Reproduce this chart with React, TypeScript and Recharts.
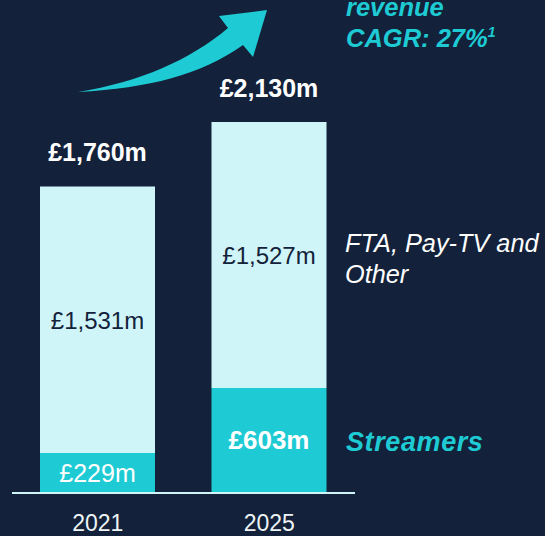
import { Bar, BarChart, LabelList, XAxis, YAxis } from "recharts";

const years = ["2021", "2025"];
const streamers = [229, 603];
const ftaOther = [1531, 1527];
const totals = [1760, 2130];
const streamerBold = [false, true];

const navy = "#13223a";
const light = "#cff5f8";
const teal = "#1ecbd4";
const font = "'Liberation Sans', Arial, sans-serif";

const data = years.map((year, i) => ({ year, streamers: streamers[i], ftaOther: ftaOther[i], total: totals[i] }));

const money = (v: number) => "£" + v.toLocaleString("en-GB") + "m";

function StreamerLabel(props: any) {
  const { x, y, width, height, index } = props;
  const bold = streamerBold[index];
  return (
    <text x={x + width / 2} y={y + height / 2 + 9} textAnchor="middle" fill="#ffffff" fontFamily={font}
      fontSize={bold ? 26 : 25} fontWeight={bold ? 700 : 400}>
      {money(streamers[index])}
    </text>
  );
}

function OtherLabel(props: any) {
  const { x, y, width, height, index } = props;
  return (
    <g>
      <text x={x + width / 2} y={y + height / 2 + 9} textAnchor="middle" fill={navy} fontFamily={font} fontSize={24}>
        {money(ftaOther[index])}
      </text>
      <text x={x + width / 2} y={y - 25} textAnchor="middle" fill="#ffffff" fontFamily={font} fontSize={25}
        fontWeight={700}>
        {money(totals[index])}
      </text>
    </g>
  );
}

function YearTick(props: any) {
  const { x, payload } = props;
  return (
    <text x={x} y={531} textAnchor="middle" fill="#eef4f6" fontFamily={font} fontSize={23}>
      {payload.value}
    </text>
  );
}

export default function App() {
  return (
    <div style={{ position: "absolute", left: 0, top: 0, width: 545, height: 536, background: navy, overflow: "hidden" }}>
      <BarChart width={545} height={536} data={data} margin={{ top: 122, right: 190, left: 12, bottom: 0 }} barSize={115}>
        <YAxis hide domain={[0, 2130]} />
        <XAxis dataKey="year" height={43} axisLine={{ stroke: light, strokeWidth: 2 }} tickLine={false} tick={<YearTick />} />
        <Bar dataKey="streamers" stackId="a" fill={teal} isAnimationActive={false}>
          <LabelList dataKey="streamers" content={<StreamerLabel />} />
        </Bar>
        <Bar dataKey="ftaOther" stackId="a" fill={light} isAnimationActive={false}>
          <LabelList dataKey="ftaOther" content={<OtherLabel />} />
        </Bar>
      </BarChart>
      <svg width={545} height={536} style={{ position: "absolute", left: 0, top: 0, pointerEvents: "none" }}>
        <path d="M78,92 C140,82 190,60 228,28 L219,16 L267,10 L253,57 L243,45 C200,75 150,88 78,92 Z" fill={teal} />
        <g fontFamily={font} fontStyle="italic">
          <text x={346} y={16} fill={teal} fontSize={25.5} fontWeight={700}>revenue</text>
          <text x={346} y={47} fill={teal} fontSize={25.5} fontWeight={700}>
            CAGR: 27%<tspan fontSize={14} dy={-10}>1</tspan>
          </text>
          <text x={345} y={252} fill="#ffffff" fontSize={25.3}>FTA, Pay-TV and</text>
          <text x={345} y={283} fill="#ffffff" fontSize={25.3}>Other</text>
          <text x={346} y={451} fill={teal} fontSize={27} fontWeight={700} letterSpacing={0.6}>Streamers</text>
        </g>
      </svg>
    </div>
  );
}
